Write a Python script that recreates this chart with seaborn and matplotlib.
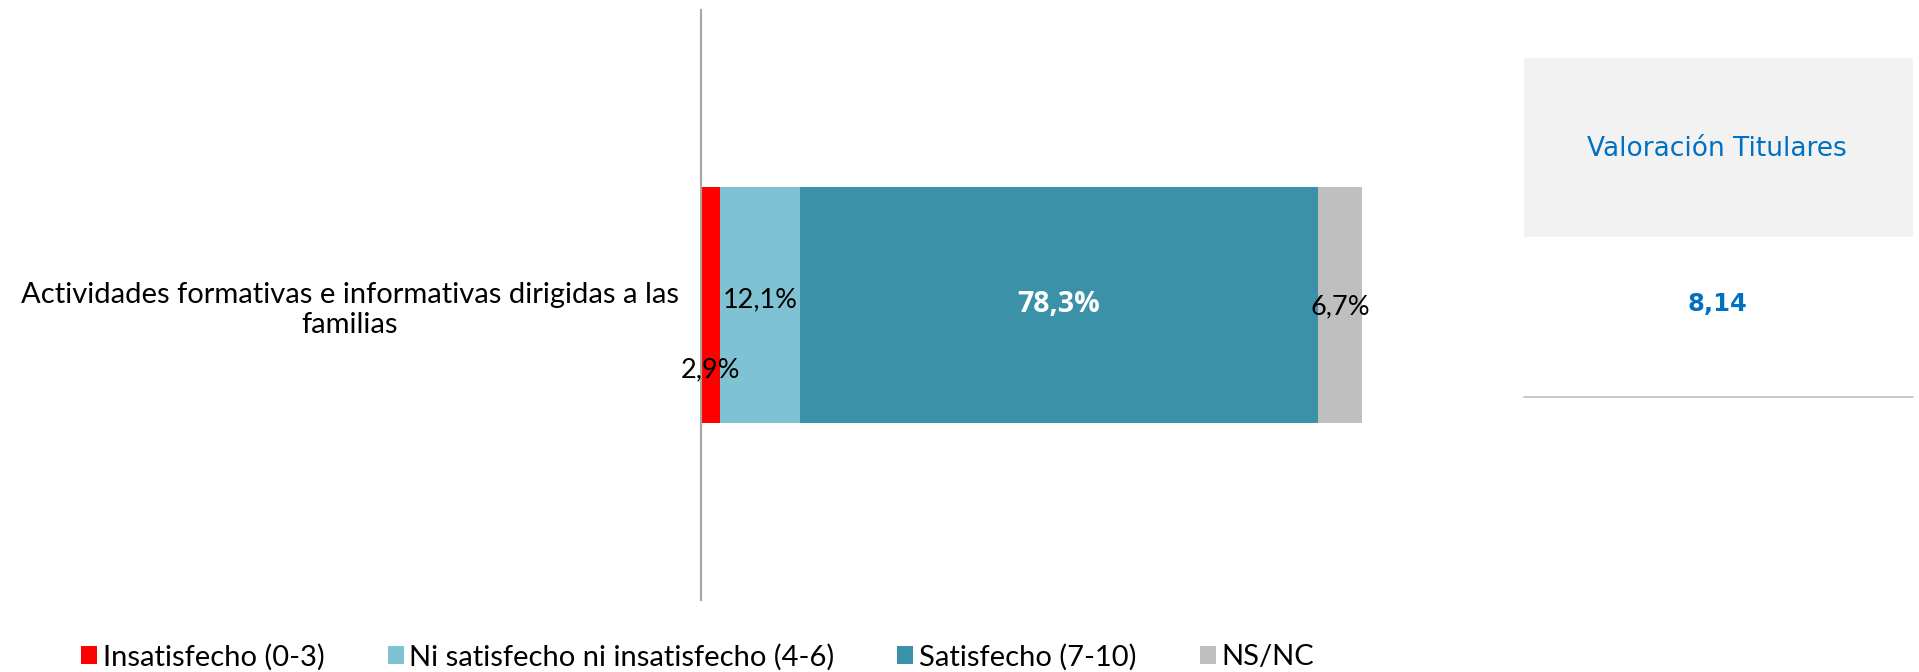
import matplotlib
matplotlib.use("Agg")
import numpy as np
import matplotlib.pyplot as plt
import seaborn as sns
from matplotlib.patches import Patch, Rectangle
from matplotlib.lines import Line2D

categories = ["Actividades formativas e informativas dirigidas a las\nfamilias"]
series_names = ["Insatisfecho (0-3)", "Ni satisfecho ni insatisfecho (4-6)",
                "Satisfecho (7-10)", "NS/NC"]
values = [2.9, 12.1, 78.3, 6.7]
value_labels = ["2,9%", "12,1%", "78,3%", "6,7%"]
panel_title = "Valoración Titulares"
panel_value = "8,14"

colors = ["#FF0000", "#7FC2D3", "#3A91A8", "#BFBFBF"]
label_colors = ["black", "black", "white", "black"]
label_bold = [False, False, True, False]
label_dy = [0.11, -0.008, 0.0, 0.003]

sns.set_theme(style="white")
plt.rcParams['font.family'] = ['Lato', 'DejaVu Sans']
plt.rcParams['text.color'] = 'black'
plt.rcParams['ytick.color'] = 'black'

W, H = 1919, 672
fig = plt.figure(figsize=(W / 100, H / 100), dpi=100)
ax = fig.add_axes([701 / W, 1 - 600 / H, (1362 - 701) / W, 590 / H])

cum = np.cumsum(values)
# stacked bar: draw cumulative totals from largest to smallest
for i in reversed(range(len(values))):
    sns.barplot(x=[cum[i]], y=categories, color=colors[i], width=0.4,
                saturation=1, linewidth=0, ax=ax)

for i, v in enumerate(values):
    if label_bold[i]:
        kw = dict(fontweight='bold', family=['Open Sans', 'DejaVu Sans'], fontsize=20.5)
    else:
        kw = dict(fontsize=19.5)
    ax.text(cum[i] - v / 2, label_dy[i], value_labels[i], ha='center', va='center',
            color=label_colors[i], **kw)

ax.set_xlim(0, 100)
ax.set_xlabel("")
ax.set_ylabel("")
ax.set_xticks([])
ax.tick_params(axis='y', length=0, pad=16, labelsize=21, labelcolor='black')
for t in ax.get_yticklabels():
    t.set_multialignment('center')
for s in ['top', 'right', 'bottom']:
    ax.spines[s].set_visible(False)
ax.spines['left'].set_color('#A6A6A6')
ax.spines['left'].set_linewidth(1.5)

handles = [Patch(facecolor=c, edgecolor='none') for c in colors]
fig.legend(handles, series_names, loc='center left',
           bbox_to_anchor=(55 / W, 1 - 657 / H), ncol=4, frameon=False,
           fontsize=21, handlelength=0.55, handleheight=0.55,
           handletextpad=0.2, columnspacing=2.15, labelcolor='black')

# right-hand panel with the overall rating
fig.patches.append(Rectangle((1524 / W, 1 - 237 / H), (1913 - 1524) / W, (237 - 58) / H,
                             transform=fig.transFigure, facecolor='#F2F2F2',
                             edgecolor='none'))
fig.text(1717 / W, 1 - 149 / H, panel_title, ha='center', va='center',
         fontsize=19, color='#0070C0', family=['DejaVu Sans'])
fig.text(1717 / W, 1 - 304 / H, panel_value, ha='center', va='center',
         fontsize=17.5, color='#0070C0', fontweight='bold', family=['DejaVu Sans'])
fig.add_artist(Line2D([1524 / W, 1913 / W], [1 - 397 / H, 1 - 397 / H],
                      color='#BFBFBF', linewidth=1.2))

fig.savefig("out.png", dpi=100)
